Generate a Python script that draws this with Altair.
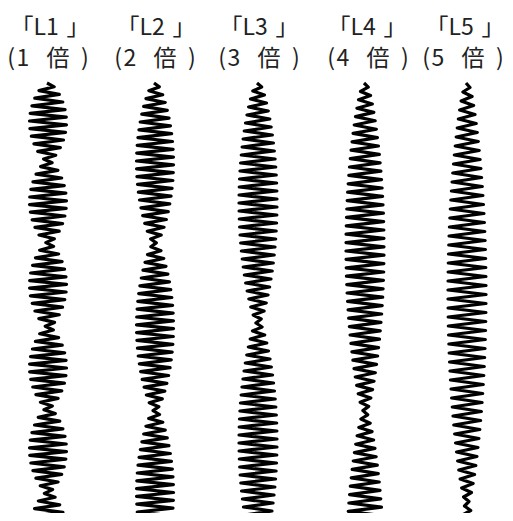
import altair as alt
import pandas as pd
import numpy as np

# ---- data ----
top_labels = ["「L1\u2004」", "「L2\u2004」", "「L3\u2004」", "「L4\u2004」", "「L5\u2004」"]
bottom_labels = ["(\u200a1\u2002\u2005倍\u2002)", "(\u200a2\u2002\u2005倍\u2002)",
                 "(\u200a3\u2002\u2005倍\u2002)", "(\u200a4\u2002\u2005倍\u2002)",
                 "(\u200a5\u2002\u2005倍\u2002)"]
centers = [48, 155, 258, 365, 467]            # column centre (px)
top_x = [50, 156, 259, 367, 465]              # label centres, first line
bottom_x = [48, 155, 259, 368, 463]           # label centres, second line
# y positions of the envelope nodes (narrow points) per column
nodes = [
    [83, 161, 243, 327, 408, 492, 574],
    [83, 243, 410, 575],
    [83, 322, 560],
    [83, 412, 740],
    [83, 503, 930],
]
half_width = [17.5, 17.5, 18, 18, 18]        # peak half amplitude (px)
step = [3.8, 3.9, 4.0, 4.2, 4.5]             # vertical spacing of zigzag vertices (px)
shape_exp = 0.65                             # envelope flatness
y_start, y_end = 83, 530

# ---- build zigzag vertex table ----
rows = []
for k in range(5):
    ys = np.arange(y_start, y_end, step[k])
    nd = nodes[k]
    for i, y in enumerate(ys):
        j = max(m for m in range(len(nd) - 1) if nd[m] <= y)
        frac = (y - nd[j]) / (nd[j + 1] - nd[j])
        env = half_width[k] * abs(np.sin(np.pi * frac)) ** shape_exp + 1.0
        x = centers[k] + (env if i % 2 else -env)
        rows.append({"col": top_labels[k], "i": i, "x": x, "y": float(y)})
zig = pd.DataFrame(rows)

lab = pd.DataFrame({"tx": top_x, "bx": bottom_x, "top": top_labels, "bottom": bottom_labels})

W, H = 497, 505
xs = alt.Scale(domain=[8, 8 + W])
ysc = alt.Scale(domain=[8, 8 + H], reverse=True)

lines = alt.Chart(zig).mark_line(color="black", strokeWidth=3.2, strokeJoin="round", clip=True).encode(
    x=alt.X("x:Q", scale=xs, axis=None),
    y=alt.Y("y:Q", scale=ysc, axis=None),
    detail="col:N",
    order="i:Q",
)

t1 = alt.Chart(lab).mark_text(font="Noto Sans CJK JP", fontSize=23, color="#222", baseline="alphabetic").encode(
    x=alt.X("tx:Q", scale=xs, axis=None),
    y=alt.datum(35, scale=ysc),
    text="top:N",
)
t2 = alt.Chart(lab).mark_text(font="Noto Sans CJK JP", fontSize=23, color="#222", baseline="alphabetic").encode(
    x=alt.X("bx:Q", scale=xs, axis=None),
    y=alt.datum(66, scale=ysc),
    text="bottom:N",
)

chart = alt.layer(lines, t1, t2).properties(
    width=W, height=H, padding=0, autosize="none"
).configure_view(stroke=None)

chart.save("out.html", embed_options={"renderer": "svg", "actions": False})
